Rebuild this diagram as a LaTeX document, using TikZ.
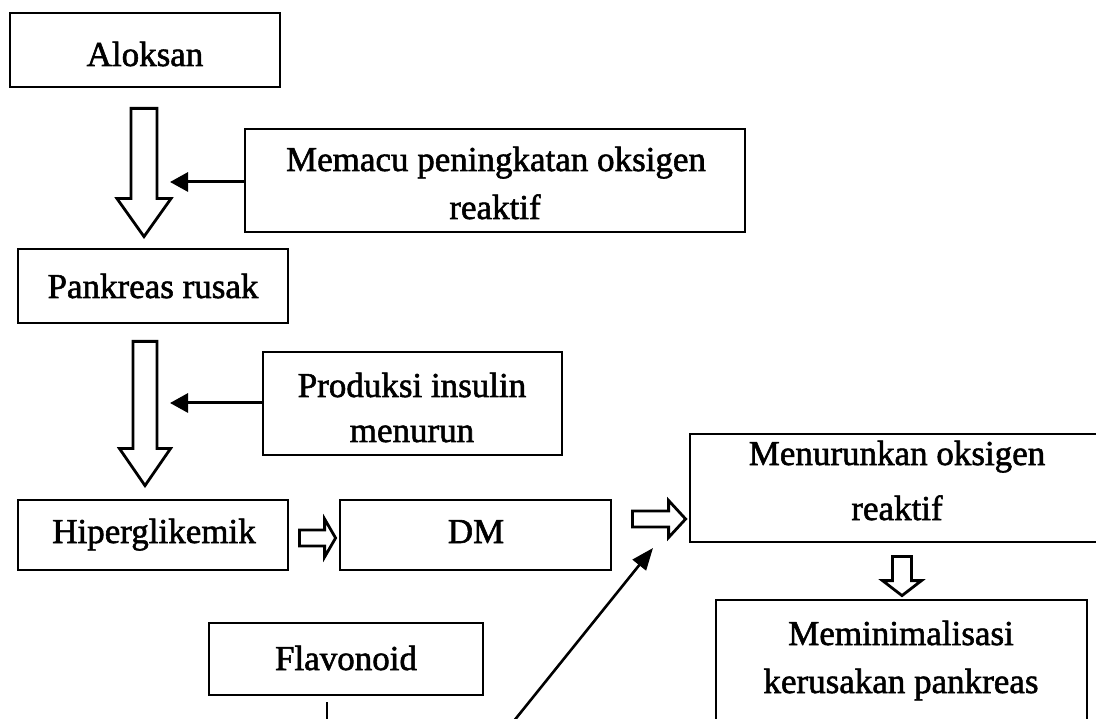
\documentclass[tikz,border=0pt]{standalone}
\usepackage{fontspec}
\setmainfont{Liberation Serif}[FakeBold=1.6]
\usetikzlibrary{calc,arrows.meta}
\tikzset{
  box/.style={draw, line width=2.8pt, rectangle, inner sep=0pt},
  txt/.style={anchor=base, inner sep=0pt, font=\fontsize{35}{48}\selectfont},
  blockarr/.style={draw, line width=2.8pt, line join=miter, fill=white},
  thinarr/.style={line width=3pt, -{Triangle[length=18pt,width=19pt]}},
  diagarr/.style={line width=2.6pt, -{Triangle[length=22pt,width=17pt]}},
  plainline/.style={line width=2.8pt},
}
\newcommand{\hollowarrow}[5]{%
  \coordinate (ha-b) at ($(#2)!#5!(#1)$);
  \draw[blockarr] ($(#1)!#3!90:(#2)$) -- ($(ha-b)!#3!90:(#2)$) -- ($(ha-b)!#4!90:(#2)$) -- (#2)
     -- ($(ha-b)!#4!-90:(#2)$) -- ($(ha-b)!#3!-90:(#2)$) -- ($(#1)!#3!-90:(#2)$) -- cycle;
}
\begin{document}
\begin{tikzpicture}[x=1pt,y=-1pt]
\useasboundingbox (0,0) rectangle (1096,719);
\clip (0,0) rectangle (1096,719);
\fill[white] (0,0) rectangle (1096,719);

% boxes
\node[box, minimum width=270pt, minimum height=74pt] (alok) at (145,50) {};
\node[box, minimum width=500pt, minimum height=103pt] (memacu) at (495,180.5) {};
\node[box, minimum width=270pt, minimum height=74pt] (pank) at (153,286) {};
\node[box, minimum width=299pt, minimum height=103pt] (prod) at (412.5,403.5) {};
\node[box, minimum width=270pt, minimum height=70pt] (hiper) at (153,535) {};
\node[box, minimum width=271pt, minimum height=70pt] (dm) at (475.5,535) {};
\node[box, minimum width=420pt, minimum height=108pt] (menur) at (900,488) {};
\node[box, minimum width=371pt, minimum height=160pt] (memin) at (901.5,680) {};
\node[box, minimum width=274pt, minimum height=72pt] (flav) at (346,659) {};

% texts
\node[txt] (t-alok) at (145,66) {Aloksan};
\node[txt] (t-mem1) at (496,171) {Memacu peningkatan oksigen};
\node[txt] (t-mem2) at (495,219) {reaktif};
\node[txt] (t-pank) at (153,298) {Pankreas rusak};
\node[txt] (t-prod1) at (412,397) {Produksi insulin};
\node[txt] (t-prod2) at (412,442) {menurun};
\node[txt] (t-hiper) at (154,543) {Hiperglikemik};
\node[txt] (t-dm) at (476,543) {DM};
\node[txt] (t-men1) at (897,465) {Menurunkan oksigen};
\node[txt] (t-men2) at (897,520) {reaktif};
\node[txt] (t-min1) at (901,645) {Meminimalisasi};
\node[txt] (t-min2) at (901,693) {kerusakan pankreas};
\node[txt] (t-flav) at (346,670) {Flavonoid};

% hollow block arrows
\coordinate (a1s) at ($(alok.south)+(-1,20)$);
\coordinate (a1e) at ($(pank.north)+(-9,-11)$);
\hollowarrow{a1s}{a1e}{13pt}{27pt}{38pt}
\coordinate (a2s) at ($(pank.south)+(-8,17)$);
\coordinate (a2e) at ($(hiper.north)+(-8,-13)$);
\hollowarrow{a2s}{a2e}{12pt}{25.5pt}{37pt}
\coordinate (a3s) at ($(hiper.east)+(10,3)$);
\coordinate (a3e) at ($(dm.west)+(-3,3)$);
\hollowarrow{a3s}{a3e}{8pt}{19pt}{11pt}
\coordinate (a4s) at ($(dm.east)+(20,-16)$);
\coordinate (a4e) at ($(menur.west)+(-3,31)$);
\hollowarrow{a4s}{a4e}{8pt}{18.5pt}{17pt}
\coordinate (a5s) at ($(menur.south)+(2,13)$);
\coordinate (a5e) at ($(memin.north)+(0.5,-3)$);
\hollowarrow{a5s}{a5e}{9.5pt}{19.5pt}{15pt}

% thin arrows
\coordinate (tip1) at (170,182);
\draw[thinarr] (memacu.west |- tip1) -- (tip1);
\coordinate (tip2) at (170,403);
\draw[thinarr] (prod.west |- tip2) -- (tip2);
\coordinate (dstart) at (501,737);
\coordinate (dtip) at (653,548);
\draw[diagarr] (dstart) -- (dtip);

% line under Flavonoid
\coordinate (fl-end) at (327,730);
\draw[plainline] ($(flav.south)+(-19,6)$) -- (fl-end);
\end{tikzpicture}
\end{document}
